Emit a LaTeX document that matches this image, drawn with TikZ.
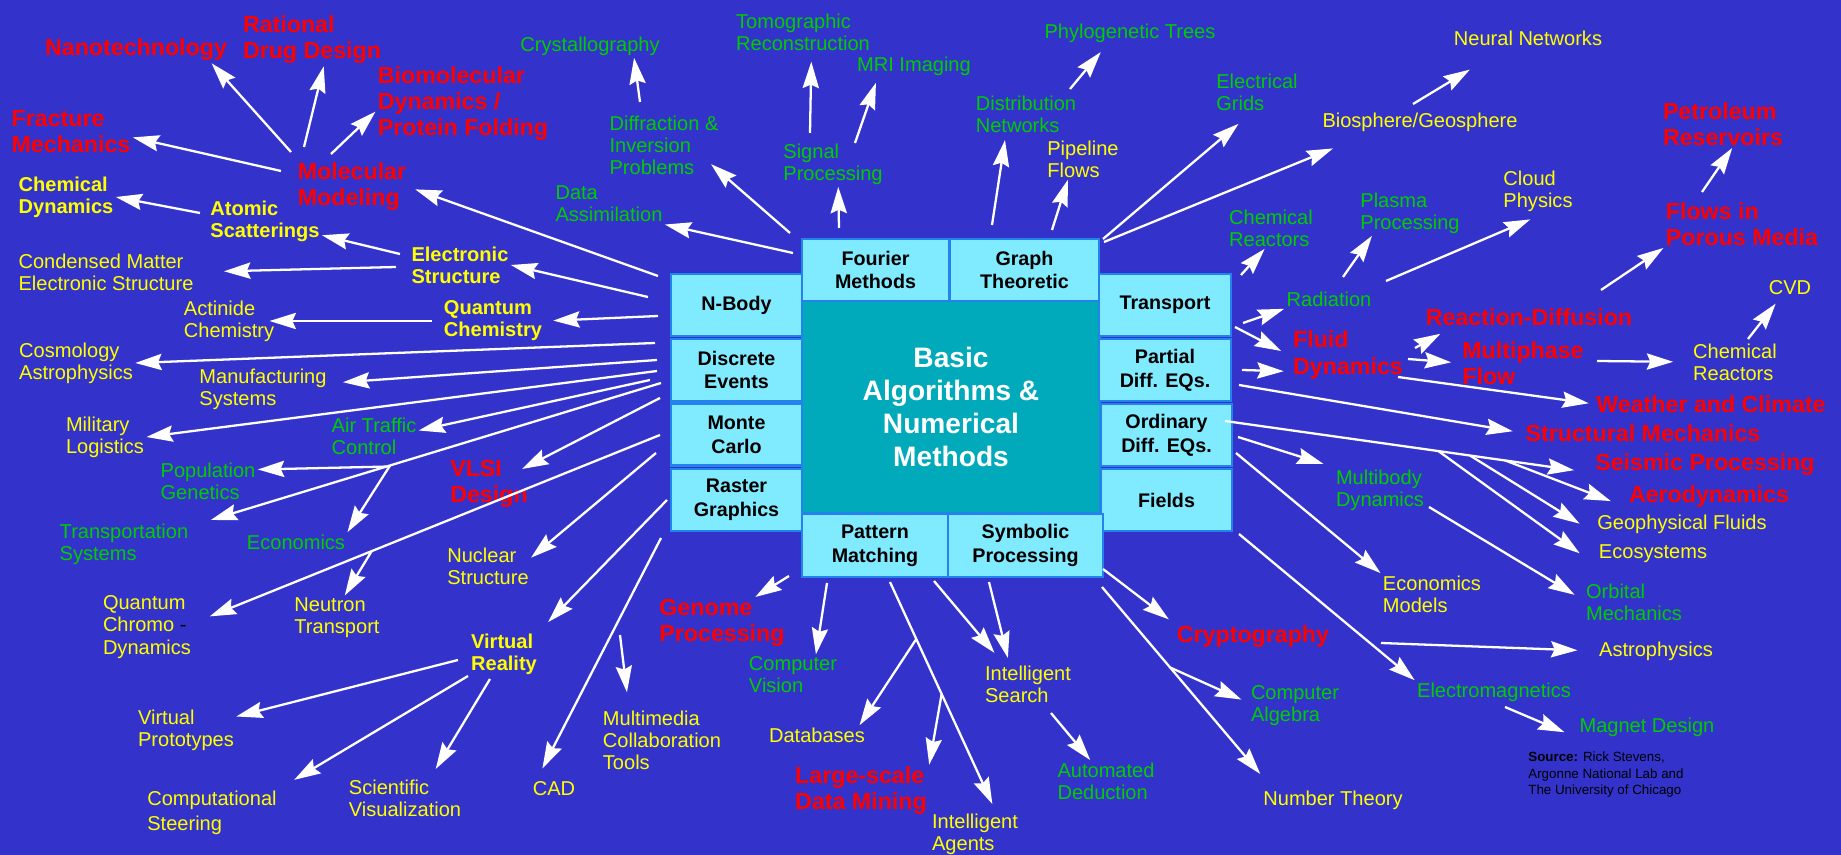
\documentclass[tikz,border=0pt]{standalone}
\usepackage{fontspec}
\setmainfont{Liberation Sans}
\usepackage{tikz}
\usetikzlibrary{arrows.meta,calc}
\definecolor{bgblue}{RGB}{51,51,204}
\definecolor{labgreen}{RGB}{0,204,0}
\definecolor{labyellow}{RGB}{255,255,0}
\definecolor{labred}{RGB}{255,0,0}
\definecolor{boxfill}{RGB}{128,234,255}
\definecolor{boxline}{RGB}{35,130,235}
\definecolor{coreteal}{RGB}{0,170,187}
\tikzset{every picture/.style={x=0.01cm, y=-0.01cm}}
\tikzset{lbl/.style={inner sep=0.5pt, align=left, font=\fontsize{5.7}{6.3}\selectfont}}
\tikzset{yel/.style={lbl, text=labyellow}, grn/.style={lbl, text=labgreen}}
\tikzset{yelb/.style={yel, font=\fontsize{5.7}{6.3}\selectfont\bfseries}}
\tikzset{hot/.style={lbl, text=labred, font=\fontsize{6.6}{7.4}\selectfont\bfseries}}
\tikzset{box/.style={draw=boxline, fill=boxfill, line width=0.6pt, inner sep=0pt,
    minimum height=0.62cm, align=center, font=\fontsize{5.6}{6.8}\selectfont\bfseries}}
\tikzset{arr/.style={draw=white, line width=0.65pt, -{Stealth[length=7.5pt, width=4.6pt, inset=1pt]}}}

\begin{document}
\begin{tikzpicture}
\fill[bgblue] (0,0) rectangle (1841,855);
\useasboundingbox (0,0) rectangle (1841,855);

% core block
\node[draw=boxline, fill=coreteal, line width=0.6pt, minimum width=2.98cm, minimum height=2.12cm,
  align=center, text=white, font=\fontsize{8}{9.3}\selectfont\bfseries] (basic) at (951,407)
  {Basic\\Algorithms \&\\Numerical\\Methods};
\node[box, minimum width=1.31cm] (nbody) at (736.5,305) {N-Body};
\node[box, minimum width=1.31cm] (discrete) at (736.5,370) {Discrete\\Events};
\node[box, minimum width=1.31cm] (monte) at (736.5,434.5) {Monte\\Carlo};
\node[box, minimum width=1.31cm] (raster) at (736.5,500) {Raster\\Graphics};
\node[box, minimum width=1.32cm] (transport) at (1165,305) {Transport};
\node[box, minimum width=1.32cm] (pde) at (1165,370) {Partial\\Diff. EQs.};
\node[box, minimum width=1.31cm] (ode) at (1166.5,435) {Ordinary\\Diff. EQs.};
\node[box, minimum width=1.31cm] (fields) at (1166.5,500) {Fields};
\node[box, minimum width=1.47cm] (fourier) at (875.5,270) {Fourier\\Methods};
\node[box, minimum width=1.49cm] (graph) at (1024.5,270) {Graph\\Theoretic};
\node[box, minimum width=1.46cm, minimum height=0.63cm] (pattern) at (875,545.5) {Pattern\\Matching};
\node[box, minimum width=1.55cm, minimum height=0.63cm] (symbolic) at (1025.5,545.5) {Symbolic\\Processing};

% red application areas
\node[hot] (nano) at (136,50) {Nanotechnology};
\node[hot] (drug) at (312,40) {Rational\\Drug Design};
\node[hot] (biomol) at (463,104) {Biomolecular\\Dynamics /\\Protein Folding};
\node[hot] (fract) at (71,132) {Fracture\\Mechanics};
\node[hot] (molmod) at (352,187) {Molecular\\Modeling};
\node[hot] (vlsi) at (489,484) {VLSI\\Design};
\node[hot] (genome) at (722,623) {Genome\\Processing};
\node[hot] (lsdm) at (861,791) {Large-scale\\Data Mining};
\node[hot] (crypto) at (1253,637) {Cryptography};
\node[hot] (petro) at (1723,124) {Petroleum\\Reservoirs};
\node[hot] (porous) at (1742,224) {Flows in\\Porous Media};
\node[hot] (reacdiff) at (1529,317) {Reaction-Diffusion};
\node[hot] (fluid) at (1348,355) {Fluid\\Dynamics};
\node[hot] (multiph) at (1523,363) {Multiphase\\Flow};
\node[hot] (weather) at (1711,404) {Weather and Climate};
\node[hot] (struct) at (1643,433) {Structural Mechanics};
\node[hot] (seismic) at (1705,465) {Seismic Processing};
\node[hot] (aero) at (1709,497) {Aerodynamics};

% yellow
\node[yelb] (chemdyn) at (66,197) {Chemical\\Dynamics};
\node[yelb] (atomic) at (265,221) {Atomic\\Scatterings};
\node[yelb] (elec) at (460,265) {Electronic\\Structure};
\node[yelb] (qchem) at (493,321) {Quantum\\Chemistry};
\node[yelb] (vr) at (504,654) {Virtual\\Reality};
\node[yel] (condmat) at (106,272) {Condensed Matter\\Electronic Structure};
\node[yel] (actin) at (229,321) {Actinide\\Chemistry};
\node[yel] (cosmo) at (76,363) {Cosmology\\Astrophysics};
\node[yel] (manuf) at (263,389) {Manufacturing\\Systems};
\node[yel] (milit) at (105,437) {Military\\Logistics};
\node[yel] (nuclear) at (488,566) {Nuclear\\Structure};
\node[yel] (qcd) at (147,627) {Quantum\\Chromo \textcolor{black}{-}\\Dynamics};
\node[yel] (neutron) at (337,618) {Neutron\\Transport};
\node[yel] (vproto) at (186,730) {Virtual\\Prototypes};
\node[yel, font=\fontsize{5.7}{7}\selectfont] (compsteer) at (212,813) {Computational\\Steering};
\node[yel] (scivis) at (405,798) {Scientific\\Visualization};
\node[yel] (cad) at (554,789) {CAD};
\node[yel] (multimedia) at (662,740) {Multimedia\\Collaboration\\Tools};
\node[yel] (databases) at (817,735) {Databases};
\node[yel] (intagents) at (975,834) {Intelligent\\Agents};
\node[yel] (intsearch) at (1028,684) {Intelligent\\Search};
\node[yel] (numtheory) at (1333,800) {Number Theory};
\node[yel] (econmod) at (1432,594) {Economics\\Models};
\node[yel] (astro) at (1656,651) {Astrophysics};
\node[yel] (geofl) at (1682,524) {Geophysical Fluids};
\node[yel] (ecosys) at (1653,554) {Ecosystems};
\node[yel] (chemreacR) at (1735,362) {Chemical\\Reactors};
\node[yel] (cvd) at (1790,288) {CVD};
\node[yel] (cloud) at (1538,191) {Cloud\\Physics};
\node[yel] (biogeo) at (1420,122) {Biosphere/Geosphere};
\node[yel] (neural) at (1528,38) {Neural Networks};
\node[yel] (pipeline) at (1083,159) {Pipeline\\Flows};

% green
\node[grn] (crystal) at (590,46) {Crystallography};
\node[grn] (diffr) at (664,145) {Diffraction \&\\Inversion\\Problems};
\node[grn] (dataassim) at (609,204) {Data\\Assimilation};
\node[grn] (tomo) at (803,32) {Tomographic\\Reconstruction};
\node[grn] (signal) at (833,164) {Signal\\Processing};
\node[grn] (mri) at (914,66) {MRI Imaging};
\node[grn] (distrib) at (1026,114) {Distribution\\Networks};
\node[grn] (phylo) at (1130,33) {Phylogenetic Trees};
\node[grn] (elgrids) at (1257,92) {Electrical\\Grids};
\node[grn] (chemreacL) at (1271,228) {Chemical\\Reactors};
\node[grn] (plasma) at (1410,213) {Plasma\\Processing};
\node[grn] (radiation) at (1329,299) {Radiation};
\node[grn] (airtraffic) at (374,436) {Air Traffic\\Control};
\node[grn] (popgen) at (208,481) {Population\\Genetics};
\node[grn] (transsys) at (124,544) {Transportation\\Systems};
\node[grn] (economics) at (296,542) {Economics};
\node[grn] (compvision) at (793,675) {Computer\\Vision};
\node[grn] (autoded) at (1106,781) {Automated\\Deduction};
\node[grn] (compalg) at (1295,706) {Computer\\Algebra};
\node[grn] (multibody) at (1380,490) {Multibody\\Dynamics};
\node[grn] (orbital) at (1634,602) {Orbital\\Mechanics};
\node[grn] (electromag) at (1494,692) {Electromagnetics};
\node[grn] (magnet) at (1647,727) {Magnet Design};

\node[lbl, text=black, font=\fontsize{3.8}{4.7}\selectfont] (source) at (1606,775)
  {\textbf{Source:} Rick Stevens,\\Argonne National Lab and\\The University of Chicago};

% arrow tails
\foreach \n/\x/\y in {mm1/291/152, mm2/304/147, mm3/331/154, mm4/281/171,
  as1/200/213, es1/400/254, es2/396/267, qc1/432/321,
  l1/658/276, l2/648/297, l3/658/316, l4/655/343, l5/657/360, l6/657/371,
  l7/650/380, l8/661/383, l9/660/398, l10/660/435, l11/656/453, l12/667/500,
  l13/661/538, l14/620/635, vr1/458/660, vr2/468/676, vr3/490/679,
  t1/793/253, t2/790/233, df1/640/102, t3/839/228, sp1/810/133, sp2/855/143,
  t4/992/225, dn1/1070/89, t5/1052/230, t6/1103/239, t7/1104/242, bg1/1413/104,
  r1/1241/275, r2/1243/323, rd1/1343/277, rd2/1386/281, r3/1235/327, r4/1242/370,
  fd1/1415/348, fd2/1408/359, fd3/1398/377, mp1/1597/361, cr1/1748/339,
  rx1/1601/290, pm1/1702/192, r5/1239/385, r6/1225/421, r7/1238/437,
  r8/1236/453, r9/1239/534, mb1/1429/507, em1/1505/707, cy1/1381/643,
  d1/789/576, d2/827/583, d3/890/582, d4/934/581, d5/989/582, is1/1051/713,
  d6/1103/569, d7/1102/587}
  \coordinate (\n) at (\x,\y);

% branch points on longer arrows
\coordinate (b1) at ($(l8)!0.584!(transsys.15)$);
\coordinate (b2) at ($(l8)!0.576!(transsys.15)$);
\coordinate (b3) at ($(l10)!0.618!(qcd.5)$);
\coordinate (b4) at ($(d3)!0.249!(intagents.48)$);
\coordinate (b5) at ($(d3)!0.489!(intagents.48)$);
\coordinate (b6) at ($(d7)!0.40!(numtheory.169)$);
\coordinate (sb1) at ($(r6)!0.762!(seismic.-176)$);
\coordinate (sb2) at ($(r6)!0.666!(seismic.-176)$);
\coordinate (sb3) at ($(r6)!0.580!(seismic.-176)$);

% arrows
\foreach \a/\b/\s in {mm1/nano.-10/0, mm2/drug.-66/0, mm3/biomol.185/0, mm4/fract.-5/0,
  as1/chemdyn.east/0, es1/atomic.-14/0, es2/condmat.east/8, qc1/actin.east/-2,
  l1/molmod.east/2, l2/elec.east/0, l3/qchem.east/2.5, l4/cosmo.east/0,
  l5/manuf.5/4, l6/milit.east/0, l7/airtraffic.7/0, l8/transsys.15/6,
  b1/popgen.13/0, b2/economics.north east/0, l9/vlsi.25/-2.6, l10/qcd.5/5,
  b3/neutron.71/0, l11/nuclear.11/0, l12/vr.north east/3.6, l13/cad.151/3.5,
  l14/multimedia.136/4.5, vr1/vproto.15/0, vr2/compsteer.north east/5, vr3/scivis.39/2.7,
  t1/dataassim.south east/0, t2/diffr.-26/-3.7, df1/crystal.-15/0, t3/signal.-77/0,
  sp1/tomo.-68/2.5, sp2/mri.-162/1.5, t4/distrib.-134/1.5, dn1/phylo.-153/2.7,
  t5/pipeline.-126/0, t6/elgrids.-105/4.8, t7/biogeo.-167/11, bg1/neural.-156/12,
  r1/chemreacL.-107/0, r2/radiation.south west/0, rd1/plasma.-149/0, rd2/cloud.-77/4,
  r3/fluid.181/3.1, r4/fluid.-164/2, fd1/reacdiff.-172/3.4, fd2/multiph.west/2.5,
  mp1/chemreacR.west/5, cr1/cvd.-135/2.2, rx1/porous.south west/0, pm1/petro.-69/0,
  fd3/weather.west/1.5, r5/struct.west/3, r6/seismic.-176/5.4, sb1/aero.-173/4.8,
  sb2/geofl.-174/5.1, sb3/ecosys.south west/5.9, r7/multibody.north west/3, mb1/orbital.178/3,
  r8/econmod.north west/0, r9/electromag.north west/0, em1/magnet.-170/4.8,
  cy1/astro.west/5.5, d1/genome.38/0, d2/compvision.42/0, d3/intagents.48/2.2,
  b4/databases.13/0, b5/lsdm.north east/0, d4/intsearch.140/3.8, d5/intsearch.132/1.5,
  is1/autoded.127/0, d6/crypto.north west/2, d7/numtheory.169/5.3, b6/compalg.176/2.2}
  \draw[arr, shorten >=\s pt] (\a) -- (\b);
\end{tikzpicture}
\end{document}
